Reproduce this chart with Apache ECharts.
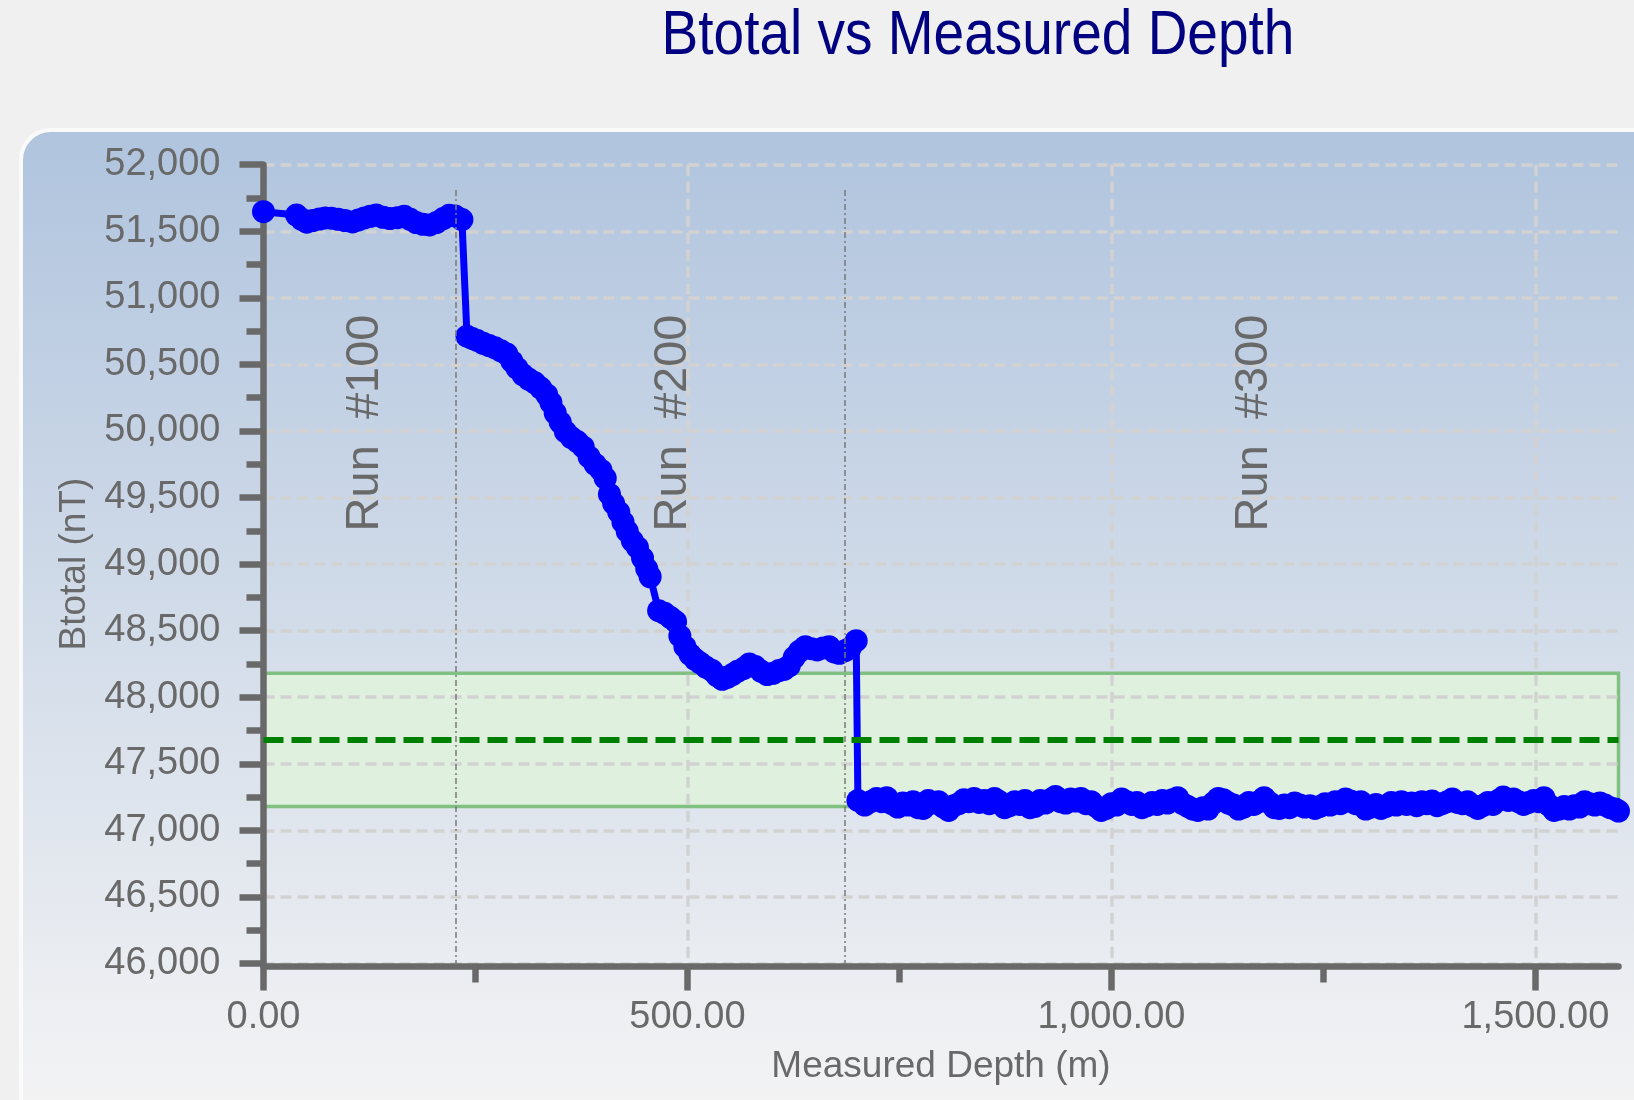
<!DOCTYPE html>
<html>
<head>
<meta charset="utf-8">
<title>Btotal vs Measured Depth</title>
<script src="https://cdn.jsdelivr.net/npm/echarts@6/dist/echarts.min.js"></script>
<style>
  html, body { margin: 0; padding: 0; background: #f0f0f0; }
  #chart { width: 1634px; height: 1100px; }
</style>
</head>
<body>
<div id="chart"></div>
<script>
// Survey stations per run: [measured depth (m), Btotal (nT)]
const run100Stations = [
  [0, 51647], [39, 51622], [45, 51590], [51, 51568], [58, 51580], [66, 51592], [73, 51600],
  [80, 51598], [88, 51590], [96, 51580], [105, 51570], [112, 51585], [119, 51600], [126, 51612],
  [133, 51622], [141, 51605], [149, 51595], [158, 51602], [166, 51612], [173, 51590], [180, 51565],
  [188, 51552], [196, 51548], [204, 51565], [212, 51595], [219, 51620], [226, 51615], [234, 51588]
];
const run200Stations = [
  [240, 50712], [246, 50695], [252, 50680], [259, 50658], [266, 50642], [273, 50625], [280, 50602],
  [287, 50578], [293, 50522], [299, 50472], [306, 50422], [313, 50388], [320, 50362], [327, 50322],
  [334, 50272], [339, 50212], [344, 50135], [350, 50065], [356, 49995], [363, 49950], [370, 49920],
  [377, 49880], [384, 49805], [391, 49750], [398, 49705], [403, 49645], [408, 49525], [413, 49455],
  [419, 49390], [424, 49315], [429, 49245], [435, 49175], [441, 49125], [447, 49045], [452, 48965],
  [456, 48905], [466, 48650], [473, 48630], [480, 48598], [486, 48568], [491, 48460], [497, 48380],
  [503, 48322], [509, 48285], [515, 48258], [522, 48225], [529, 48200], [535, 48160], [541, 48135],
  [547, 48150], [553, 48170], [559, 48195], [566, 48215], [573, 48250], [580, 48230], [587, 48195],
  [594, 48170], [601, 48180], [608, 48200], [614, 48210], [620, 48235], [626, 48300], [632, 48345],
  [639, 48380], [646, 48365], [653, 48355], [660, 48370], [667, 48380], [673, 48340], [679, 48330],
  [686, 48350], [692, 48370], [699, 48425]
];
const run300Stations = [
  [701, 47225], [709, 47190], [716, 47215], [723, 47240], [729, 47215], [735, 47245], [741, 47200],
  [748, 47175], [754, 47205], [760, 47190], [766, 47215], [772, 47170], [778, 47165], [784, 47225],
  [790, 47205], [796, 47215], [802, 47175], [808, 47150], [814, 47185], [820, 47200], [826, 47230],
  [832, 47215], [838, 47240], [844, 47210], [850, 47225], [856, 47200], [862, 47240], [868, 47215],
  [874, 47170], [880, 47185], [886, 47215], [892, 47195], [898, 47225], [904, 47170], [910, 47180],
  [916, 47225], [922, 47205], [928, 47230], [934, 47255], [940, 47215], [946, 47205], [952, 47235],
  [958, 47220], [964, 47240], [970, 47200], [976, 47215], [982, 47180], [988, 47150], [994, 47165],
  [1000, 47200], [1006, 47190], [1012, 47235], [1018, 47215], [1024, 47195], [1030, 47210], [1036, 47170],
  [1042, 47185], [1048, 47210], [1054, 47195], [1060, 47225], [1066, 47205], [1072, 47230], [1078, 47245],
  [1084, 47200], [1090, 47180], [1096, 47160], [1102, 47150], [1108, 47170], [1114, 47160], [1120, 47205],
  [1126, 47240], [1132, 47230], [1138, 47205], [1144, 47190], [1150, 47160], [1156, 47175], [1162, 47210],
  [1168, 47195], [1174, 47215], [1180, 47245], [1186, 47210], [1192, 47170], [1198, 47165], [1204, 47190],
  [1210, 47170], [1216, 47205], [1222, 47190], [1228, 47175], [1234, 47185], [1240, 47165], [1246, 47180],
  [1252, 47200], [1258, 47190], [1264, 47215], [1270, 47200], [1276, 47235], [1282, 47220], [1288, 47200],
  [1294, 47215], [1300, 47160], [1306, 47175], [1312, 47195], [1318, 47165], [1324, 47180], [1330, 47210],
  [1336, 47190], [1342, 47215], [1348, 47195], [1354, 47205], [1360, 47185], [1366, 47215], [1372, 47200],
  [1378, 47220], [1384, 47185], [1390, 47200], [1396, 47215], [1402, 47235], [1408, 47210], [1414, 47200],
  [1420, 47215], [1426, 47185], [1432, 47165], [1438, 47185], [1444, 47210], [1450, 47195], [1456, 47225],
  [1462, 47250], [1468, 47225], [1474, 47235], [1480, 47215], [1486, 47195], [1492, 47210], [1498, 47225],
  [1504, 47215], [1510, 47245], [1516, 47190], [1522, 47150], [1528, 47160], [1534, 47180], [1540, 47160],
  [1546, 47185], [1552, 47175], [1558, 47215], [1564, 47200], [1570, 47190], [1576, 47205], [1582, 47190],
  [1588, 47170], [1594, 47160], [1598, 47145]
];

// Run annotations
const runLabels = ['Run  #100', 'Run  #200', 'Run  #300'];
const runLabelDepth = [120, 483, 1168];
const runLabelBtotal = 50060;
const runBoundaryDepth = [227, 685];
const runBoundaryTop = 51810;

// Reference field and accepted tolerance
const referenceBtotal = 47680;
const toleranceBtotal = 500;

// Axis ticks
const depthMajorTicks = [0, 500, 1000, 1500];
const depthMinorTicks = [250, 750, 1250];
const btotalMin = 46000;
const btotalMax = 52000;
const btotalStep = 500;

const stations = run100Stations.concat(run200Stations, run300Stations);
const depthMax = stations[stations.length - 1][0];

const FONT = '"Liberation Sans", Arial, Helvetica, sans-serif';
const AXIS_GRAY = '#696969';
const axisLineStyle = { color: AXIS_GRAY, width: 6.5 };
const gridLineStyle = { color: '#d2d2d2', width: 3.5, type: [11, 6] };
const nameStyle = { fontFamily: FONT, fontSize: 37, color: AXIS_GRAY };

const chart = echarts.init(document.getElementById('chart'), null, { renderer: 'canvas' });

chart.setOption({
  backgroundColor: '#f0f0f0',
  animation: false,
  graphic: {
    elements: [
      {
        type: 'rect',
        z: -10,
        silent: true,
        shape: { x: 21, y: 130, width: 1700, height: 1100, r: 30 },
        style: {
          fill: new echarts.graphic.LinearGradient(0, 0, 0, 1, [
            { offset: 0, color: '#b0c4de' },
            { offset: 0.88, color: '#f3f3f4' },
            { offset: 1, color: '#f3f3f4' }
          ]),
          stroke: '#fafafa',
          lineWidth: 4
        }
      },
      {
        type: 'text',
        z: 10,
        silent: true,
        x: 978,
        y: 37,
        scaleY: 1.14,
        style: {
          text: 'Btotal vs Measured Depth',
          font: 'normal 55px ' + FONT,
          fill: '#000080',
          align: 'center',
          verticalAlign: 'middle',
          textAlign: 'center',
          textVerticalAlign: 'middle'
        }
      }
    ]
  },
  grid: { left: 263.5, right: 15.5, top: 164.7, bottom: 136.5 },
  xAxis: [
    {
      type: 'value',
      min: 0,
      max: depthMax,
      interval: 500,
      offset: 3,
      position: 'bottom',
      name: 'Measured Depth (m)',
      nameLocation: 'middle',
      nameGap: 82,
      nameTextStyle: nameStyle,
      axisLine: { show: true, onZero: false, lineStyle: axisLineStyle },
      axisTick: { show: true, length: 24, lineStyle: axisLineStyle, customValues: depthMajorTicks },
      axisLabel: {
        customValues: depthMajorTicks,
        margin: 32,
        fontFamily: FONT,
        fontSize: 38,
        color: AXIS_GRAY,
        formatter: v => v.toLocaleString('en-US', { minimumFractionDigits: 2, maximumFractionDigits: 2 })
      },
      splitLine: { show: true, lineStyle: gridLineStyle },
      minorTick: { show: false }
    },
    {
      type: 'value',
      min: 0,
      max: depthMax,
      interval: 500,
      offset: 3,
      position: 'bottom',
      axisLine: { show: false },
      axisTick: { show: true, length: 16, lineStyle: axisLineStyle, customValues: depthMinorTicks },
      axisLabel: { show: false },
      splitLine: { show: false }
    }
  ],
  yAxis: {
    type: 'value',
    min: btotalMin,
    max: btotalMax,
    interval: btotalStep,
    name: 'Btotal (nT)',
    nameLocation: 'middle',
    nameGap: 169,
    nameTextStyle: nameStyle,
    axisLine: { show: true, lineStyle: axisLineStyle },
    axisTick: { show: true, length: 24, lineStyle: axisLineStyle },
    minorTick: { show: true, splitNumber: 2, length: 17, lineStyle: axisLineStyle },
    axisLabel: {
      margin: 43,
      fontFamily: FONT,
      fontSize: 38,
      color: AXIS_GRAY,
      formatter: v => v.toLocaleString('en-US')
    },
    splitLine: { show: true, lineStyle: gridLineStyle }
  },
  series: [
    {
      name: 'Tolerance',
      type: 'line',
      data: [],
      z: -1,
      silent: true,
      markArea: {
        z: -1,
        silent: true,
        itemStyle: { color: '#dff0df', borderColor: '#80c080', borderWidth: 3.5 },
        data: [[
          { coord: [0, referenceBtotal + toleranceBtotal] },
          { coord: [depthMax, referenceBtotal - toleranceBtotal] }
        ]]
      }
    },
    {
      name: 'Btotal',
      type: 'line',
      data: stations,
      symbol: 'circle',
      symbolSize: 23,
      showAllSymbol: true,
      lineStyle: { color: '#0000ff', width: 7 },
      itemStyle: { color: '#0000ff' },
      markLine: {
        silent: true,
        symbol: ['none', 'none'],
        label: { show: false },
        data: [
          [
            { coord: [0, referenceBtotal], lineStyle: { color: '#008000', width: 6, type: [20, 8] } },
            { coord: [depthMax, referenceBtotal] }
          ]
        ].concat(runBoundaryDepth.map(d => [
          { coord: [d, runBoundaryTop], lineStyle: { color: '#7a7a7a', width: 1.5, type: [6, 3, 2, 3] } },
          { coord: [d, btotalMin] }
        ]))
      },
      markPoint: {
        silent: true,
        symbol: 'circle',
        symbolSize: 1,
        itemStyle: { color: 'rgba(0,0,0,0)' },
        label: {
          show: true,
          position: 'inside',
          rotate: 90,
          fontFamily: FONT,
          fontSize: 47,
          color: AXIS_GRAY,
          formatter: p => p.name
        },
        data: runLabels.map((t, i) => ({ name: t, coord: [runLabelDepth[i], runLabelBtotal] }))
      }
    }
  ]
});
</script>
</body>
</html>
